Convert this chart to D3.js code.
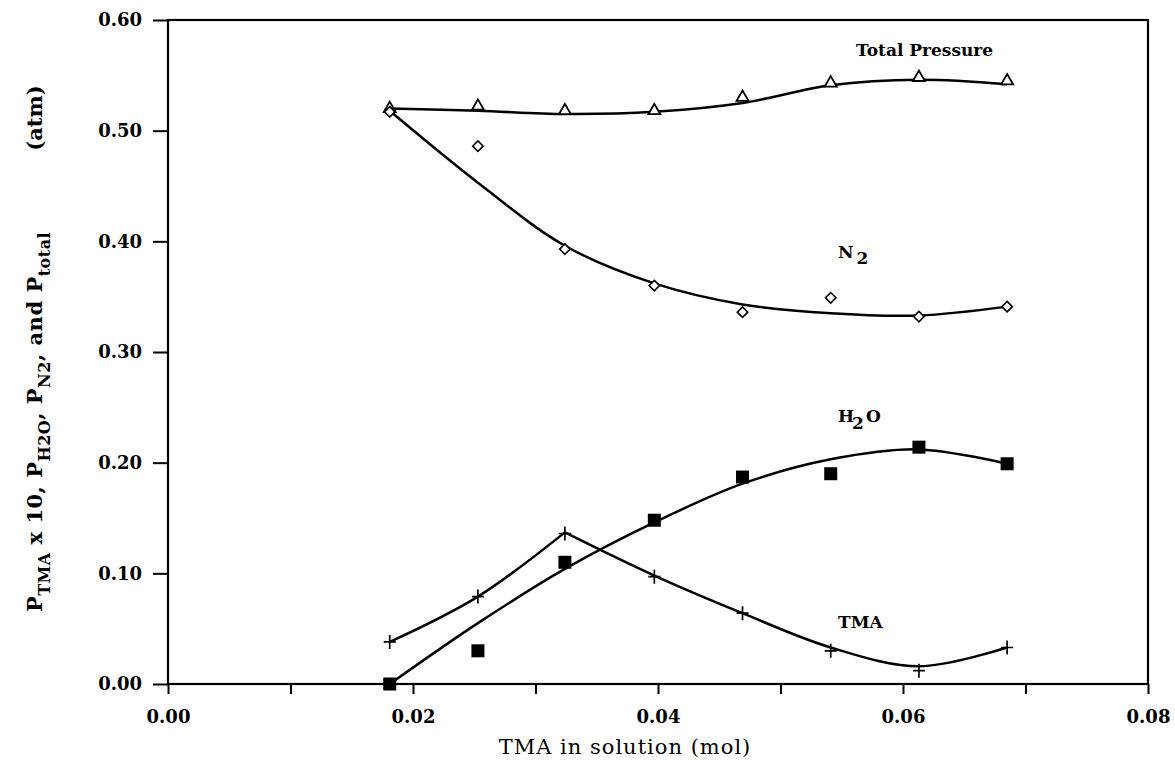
<!DOCTYPE html>
<html>
<head>
<meta charset="utf-8">
<script src="https://cdn.jsdelivr.net/npm/d3@7"></script>
<style>
  body { margin: 0; background: #fff; }
  text { font-family: "DejaVu Serif", "Liberation Serif", serif; fill: #000; }
</style>
</head>
<body>
<div id="chart-area"></div>
<script>
// Data ------------------------------------------------------
const tmaSolution = [0.0181, 0.0253, 0.0324, 0.0397, 0.0469, 0.0541, 0.0613, 0.0685]

const totalPts = [0.520, 0.522, 0.518, 0.518, 0.530, 0.543, 0.548, 0.545]
const n2Pts    = [0.517, 0.486, 0.393, 0.360, 0.336, 0.349, 0.332, 0.341]
const h2oPts   = [0.000, 0.030, 0.110, 0.148, 0.187, 0.190, 0.214, 0.199]
const tmaPts   = [0.038, 0.079, 0.136, 0.097, 0.064, 0.030, 0.012, 0.033]

// smooth fitted curves (as drawn in the figure)
const totalFit = [0.520, 0.518, 0.515, 0.517, 0.525, 0.541, 0.546, 0.542]
const n2Fit    = [0.518, 0.453, 0.396, 0.362, 0.343, 0.335, 0.333, 0.341]
const h2oFit   = [0.000, 0.055, 0.104, 0.146, 0.181, 0.203, 0.212, 0.199]
const tmaFitA  = [0.038, 0.079, 0.137]            // first 3 x values
const tmaFitB  = [0.137, 0.098, 0.064, 0.033, 0.016, 0.033] // x values 3..8

const xTicks = [0, 0.01, 0.02, 0.03, 0.04, 0.05, 0.06, 0.07, 0.08]
const xTickLabels = [0, 0.02, 0.04, 0.06, 0.08]
const yTicks = [0, 0.1, 0.2, 0.3, 0.4, 0.5, 0.6]

// Canvas setup -----------------------------------------------
const MARGIN = {LEFT: 168, RIGHT: 27, TOP: 20, BOTTOM: 93}
const WIDTH = 1175 - MARGIN.LEFT - MARGIN.RIGHT
const HEIGHT = 777 - MARGIN.TOP - MARGIN.BOTTOM

const svg = d3.select("#chart-area").append("svg")
  .attr("width", 1175)
  .attr("height", 777)

const g = svg.append("g")
  .attr("transform", `translate(${MARGIN.LEFT}, ${MARGIN.TOP})`)

const x = d3.scaleLinear().domain([0, 0.08]).range([0, WIDTH])
const y = d3.scaleLinear().domain([0, 0.6]).range([HEIGHT, 0])

// Axes -------------------------------------------------------
const xAxis = d3.axisBottom(x)
  .tickValues(xTicks)
  .tickSize(10)
  .tickFormat(d => xTickLabels.some(v => Math.abs(v - d) < 1e-9) ? d3.format(".2f")(d) : "")

const yAxis = d3.axisLeft(y)
  .tickValues(yTicks)
  .tickSize(15)
  .tickFormat(d3.format(".2f"))

const gx = g.append("g")
  .attr("transform", `translate(0, ${HEIGHT})`)
  .call(xAxis)
const gy = g.append("g").call(yAxis)

;[gx, gy].forEach(a => {
  a.select(".domain").remove()
  a.selectAll(".tick line").attr("stroke", "#000").attr("stroke-width", 2)
  a.selectAll(".tick text")
    .attr("font-family", "DejaVu Serif")
    .attr("font-weight", "bold")
    .attr("font-size", 18)
    .attr("fill", "#000")
})
gx.selectAll(".tick text").attr("dy", "1.45em")
gy.selectAll(".tick text").attr("x", -26)

// frame
g.append("rect")
  .attr("x", 0).attr("y", 0)
  .attr("width", WIDTH).attr("height", HEIGHT)
  .attr("fill", "none")
  .attr("stroke", "#000")
  .attr("stroke-width", 2.2)

// Curves -----------------------------------------------------
const line = d3.line()
  .x(d => x(d[0]))
  .y(d => y(d[1]))
  .curve(d3.curveCatmullRom.alpha(0.5))

const zipped = (xs, ys) => ys.map((v, i) => [xs[i], v])

const curves = [
  zipped(tmaSolution, totalFit),
  zipped(tmaSolution, n2Fit),
  zipped(tmaSolution, h2oFit),
  zipped(tmaSolution.slice(0, 3), tmaFitA),
  zipped(tmaSolution.slice(2), tmaFitB)
]

g.selectAll("path.fit")
  .data(curves)
  .enter().append("path")
  .attr("class", "fit")
  .attr("d", line)
  .attr("fill", "none")
  .attr("stroke", "#000")
  .attr("stroke-width", 2.5)

// Markers ----------------------------------------------------
const triangle = d3.symbol().type(d3.symbolTriangle).size(62)
const diamond = d3.symbol().type(d3.symbolDiamond2).size(70)

g.selectAll("path.tri")
  .data(zipped(tmaSolution, totalPts))
  .enter().append("path")
  .attr("class", "tri")
  .attr("d", triangle)
  .attr("transform", d => `translate(${x(d[0])}, ${y(d[1])})`)
  .attr("fill", "#fff")
  .attr("stroke", "#000")
  .attr("stroke-width", 1.8)

g.selectAll("path.dia")
  .data(zipped(tmaSolution, n2Pts))
  .enter().append("path")
  .attr("class", "dia")
  .attr("d", diamond)
  .attr("transform", d => `translate(${x(d[0])}, ${y(d[1])})`)
  .attr("fill", "#fff")
  .attr("stroke", "#000")
  .attr("stroke-width", 1.6)

g.selectAll("rect.sq")
  .data(zipped(tmaSolution, h2oPts))
  .enter().append("rect")
  .attr("class", "sq")
  .attr("x", d => x(d[0]) - 6.5)
  .attr("y", d => y(d[1]) - 6.5)
  .attr("width", 13)
  .attr("height", 13)
  .attr("fill", "#000")

g.selectAll("path.plus")
  .data(zipped(tmaSolution, tmaPts))
  .enter().append("path")
  .attr("class", "plus")
  .attr("d", "M-6,0H6M0,-7V7")
  .attr("transform", d => `translate(${x(d[0])}, ${y(d[1])})`)
  .attr("stroke", "#000")
  .attr("stroke-width", 1.7)

// Series labels ----------------------------------------------
const lbl = (tx, ty) => g.append("text")
  .attr("x", tx).attr("y", ty)
  .attr("font-weight", "bold")
  .attr("font-size", 17)

lbl(688, 36).text("Total Pressure")

const n2 = lbl(670, 238)
n2.append("tspan").text("N")
n2.append("tspan").attr("dy", 6).attr("dx", 3).text("2")

const h2o = lbl(670, 402)
h2o.append("tspan").text("H")
h2o.append("tspan").attr("dy", 7).attr("dx", -2).text("2")
h2o.append("tspan").attr("dy", -7).attr("dx", 2).text("O")

lbl(670, 608).text("TMA")

// Axis titles ------------------------------------------------
svg.append("text")
  .attr("x", 625)
  .attr("y", 754)
  .attr("text-anchor", "middle")
  .attr("font-size", 21)
  .attr("letter-spacing", 1)
  .text("TMA in solution (mol)")

const yt = svg.append("text")
  .attr("transform", "translate(42, 422) rotate(-90)")
  .attr("text-anchor", "middle")
  .attr("font-size", 21)
  .attr("font-weight", "bold")
  .attr("letter-spacing", 0.5)
const sub = (t) => yt.append("tspan").attr("dy", 8).attr("font-size", 16).text(t)
const up = (t) => yt.append("tspan").attr("dy", -8).text(t)
yt.append("tspan").text("P")
sub("TMA")
up(" x 10, P")
sub("H2O")
up(", P")
sub("N2")
up(", and P")
sub("total")

svg.append("text")
  .attr("transform", "translate(42, 118) rotate(-90)")
  .attr("text-anchor", "middle")
  .attr("font-size", 21)
  .attr("font-weight", "bold")
  .text("(atm)")
</script>
</body>
</html>
